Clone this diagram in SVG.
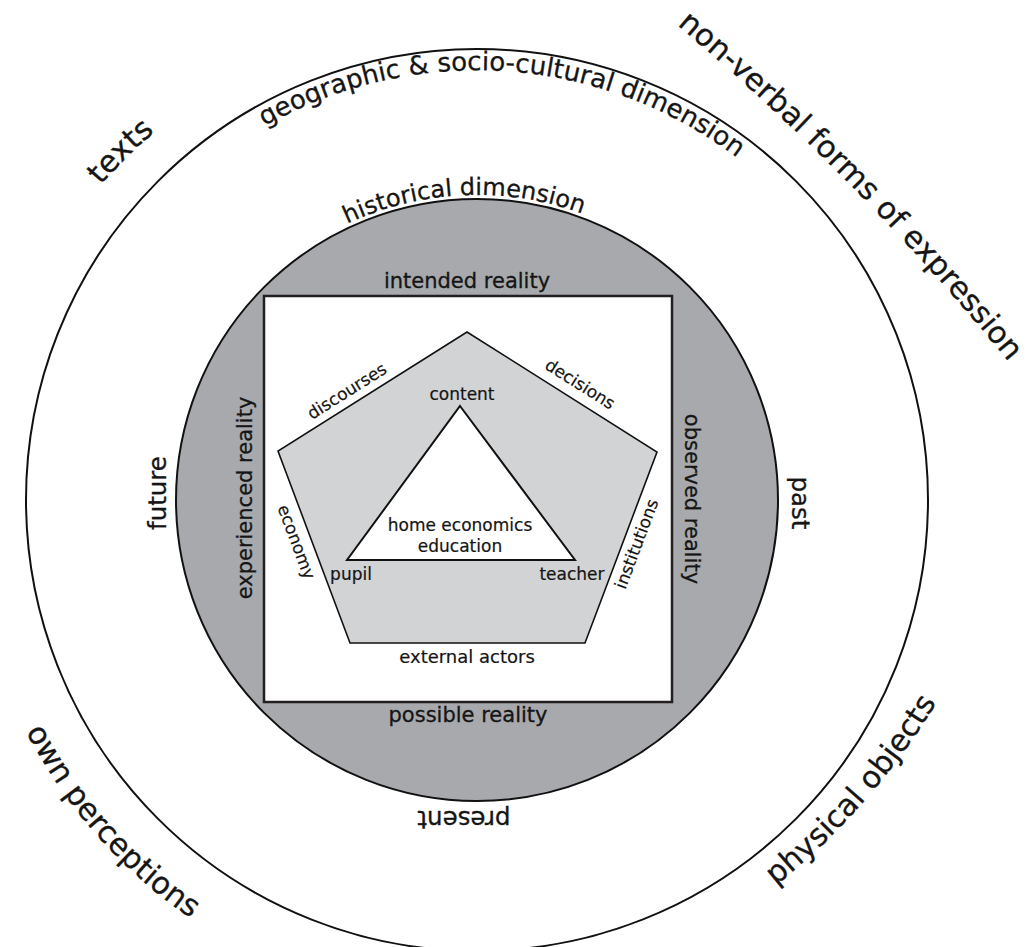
<svg xmlns="http://www.w3.org/2000/svg" xmlns:xlink="http://www.w3.org/1999/xlink" width="1031" height="947" viewBox="0 0 1031 947">
  <style>
    text { font-family: "DejaVu Sans", "Open Sans", sans-serif; fill: #151515; stroke: #151515; stroke-width: 0.3; }
    .ring { fill: none; stroke: #111; stroke-width: 2; }
    .outer { font-size: 30.5px; }
    .dim { font-size: 26px; }
    .time { font-size: 24.5px; }
    .hist { font-size: 24px; }
    .real { font-size: 21px; }
    .inner { font-size: 17px; stroke-width: 0.2; }
    .ctr { text-anchor: middle; }
  </style>
  <defs>
    <!-- baseline arcs; the rings are centred on (477,500) -->
    <path id="arc-geo" d="M52.1,434.2 A430,430 0 0 1 906.9,491.0"/>
    <path id="arc-hist" d="M174.6,460.2 A305,305 0 0 1 774.8,434.0"/>
    <path id="arc-texts" d="M-15.3,453.0 A488,488 0 0 1 424.0,18.7"/>
    <path id="arc-own" d="M-24.3,424.2 A507,507 0 0 0 489.4,1006.8"/>
    <path id="arc-phys" d="M512.7,1035.6 A700,700 0 0 0 1004.9,401.1"/>
    <path id="arc-nonverbal" d="M677,25 A2500,2500 0 0 1 1012,366"/>
  </defs>

  <rect width="1031" height="947" fill="#ffffff"/>

  <!-- outer ring: sources -->
  <g id="sources">
    <circle class="ring" cx="477" cy="500" r="451"/>
    <text class="outer"><textPath xlink:href="#arc-texts" startOffset="50%" text-anchor="middle">texts</textPath></text>
    <text class="outer"><textPath xlink:href="#arc-nonverbal" startOffset="0">non-verbal forms of expression</textPath></text>
    <text class="outer"><textPath xlink:href="#arc-own" startOffset="50%" text-anchor="middle">own perceptions</textPath></text>
    <text class="outer" transform="rotate(3.5 776 886)"><textPath xlink:href="#arc-phys" startOffset="50%" text-anchor="middle">physical objects</textPath></text>
    <text class="dim"><textPath xlink:href="#arc-geo" startOffset="50%" text-anchor="middle">geographic &amp; socio-cultural dimension</textPath></text>
  </g>

  <!-- grey disc: time -->
  <g id="time">
    <circle cx="477" cy="500" r="301" fill="#a7a9ac" stroke="#111" stroke-width="2"/>
    <text class="hist"><textPath xlink:href="#arc-hist" startOffset="50%" text-anchor="middle">historical dimension</textPath></text>
    <text class="time ctr" transform="translate(166,493) rotate(-90)">future</text>
    <text class="time ctr" transform="translate(792,503) rotate(90)">past</text>
    <text class="time ctr" transform="translate(464,811) rotate(180)">present</text>
  </g>

  <!-- square frame: realities -->
  <g id="realities">
    <rect x="264" y="296" width="408" height="406" fill="#ffffff" stroke="#231f20" stroke-width="2.5"/>
    <text class="real ctr" x="467" y="288">intended reality</text>
    <text class="real ctr" x="468" y="722">possible reality</text>
    <text class="real ctr" transform="translate(252,498) rotate(-90)">experienced reality</text>
    <text class="real ctr" transform="translate(685,499) rotate(90)">observed reality</text>
  </g>

  <!-- pentagon: context -->
  <g id="context">
    <polygon points="467,332 657,452 585,643 350,643 278,451" fill="#d1d3d4" stroke="#111" stroke-width="1.6"/>
    <text class="inner ctr" transform="translate(350,396) rotate(-32.2)">discourses</text>
    <text class="inner ctr" transform="translate(577,389) rotate(32.3)">decisions</text>
    <text class="inner ctr" transform="translate(291,544) rotate(69.4)">economy</text>
    <text class="inner ctr" transform="translate(642,546) rotate(-69.3)">institutions</text>
    <text class="inner ctr" x="467" y="663" style="font-size:18px">external actors</text>
  </g>

  <!-- triangle: didactic core -->
  <g id="core">
    <polygon points="460,406 575,560 347,560" fill="#ffffff" stroke="#111" stroke-width="2"/>
    <text class="inner ctr" x="462" y="400">content</text>
    <text class="inner ctr" x="460" y="531">home economics</text>
    <text class="inner ctr" x="460" y="552">education</text>
    <text class="inner ctr" x="351" y="580">pupil</text>
    <text class="inner ctr" x="572" y="580">teacher</text>
  </g>
</svg>
